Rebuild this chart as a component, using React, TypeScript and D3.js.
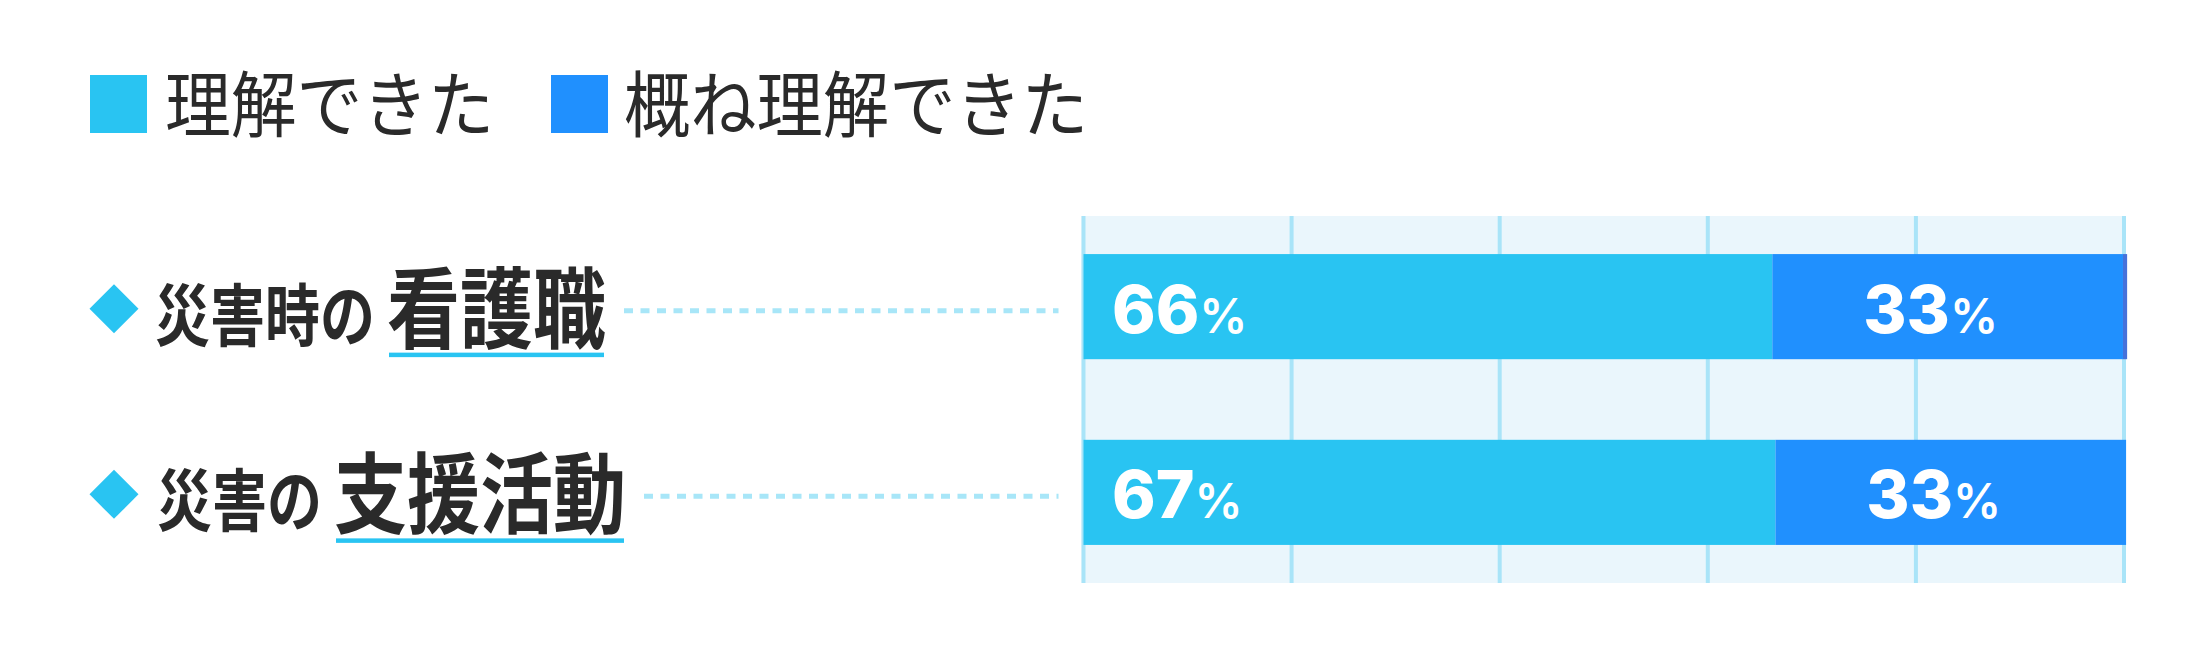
import React, { useEffect } from "react";
import * as d3 from "d3";

// ---- data ----
const categories = ["災害時の看護職", "災害の支援活動"];
const labelPrefix = ["災害時の", "災害の"];
const labelEmphasis = ["看護職", "支援活動"];
const seriesNames = ["理解できた", "概ね理解できた"];
const understood = [66.2, 66.5];
const mostlyUnderstood = [33.7, 33.7];
const otherAnswers = [0.4, 0];
const understoodLabels = ["66", "67"];
const mostlyLabels = ["33", "33"];
const xTicks = [0, 20, 40, 60, 80, 100];

const W = 2206;
const H = 665;
const C_LIGHT = "#29c4f2";
const C_DARK = "#2090fe";
const C_OTHER = "#4672da";
const C_TEXT = "#2a2a2a";
const CJK = "'Noto Sans CJK JP', 'Noto Sans CJK SC', sans-serif";
const NUM = "Inter, 'Open Sans', sans-serif";

export default function App() {
  useEffect(() => {
    document.body.style.margin = "0";
  }, []);

  const x = d3.scaleLinear().domain([0, 100]).range([1083.5, 2124]);
  const y = d3
    .scaleBand<string>()
    .domain(categories)
    .range([216, 583])
    .paddingInner(0.434)
    .paddingOuter(0.205);

  const table = categories.map((c, i) => ({
    category: c,
    understood: understood[i],
    mostly: mostlyUnderstood[i],
    other: otherAnswers[i],
  }));
  const keys = ["understood", "mostly", "other"];
  const colors: Record<string, string> = {
    understood: C_LIGHT,
    mostly: C_DARK,
    other: C_OTHER,
  };
  const stacked = d3.stack<any>().keys(keys)(table);

  const bw = y.bandwidth();
  const [r0, r1] = x.range();

  const legendItems = [
    { name: seriesNames[0], color: C_LIGHT, sx: 90, tx: 165, len: 329 },
    { name: seriesNames[1], color: C_DARK, sx: 551, tx: 624, len: 464 },
  ];

  const PRE_FS = 68;
  const EMP_FS = 88;

  return (
    <svg
      width={W}
      height={H}
      viewBox={`0 0 ${W} ${H}`}
      style={{ display: "block", background: "#ffffff" }}
    >
      {/* legend */}
      {legendItems.map((d) => (
        <g key={d.name}>
          <rect x={d.sx} y={75} width={57} height={58} fill={d.color} />
          <text
            x={d.tx}
            y={131}
            fontFamily={CJK}
            fontSize={72}
            fontWeight={400}
            fill={C_TEXT}
            textLength={d.len}
            lengthAdjust="spacingAndGlyphs"
          >
            {d.name}
          </text>
        </g>
      ))}

      {/* plot background */}
      <rect x={r0 - 2} y={216} width={r1 - r0 + 4} height={367} fill="#eaf6fc" />
      {xTicks.map((t) => (
        <line
          key={t}
          x1={x(t)}
          x2={x(t)}
          y1={216}
          y2={583}
          stroke="#a9e4f8"
          strokeWidth={4}
        />
      ))}

      {/* bars */}
      {stacked.map((s) => (
        <g key={s.key} fill={colors[s.key]}>
          {s.map((d, i) =>
            d[1] - d[0] > 0 ? (
              <rect
                key={i}
                x={x(d[0])}
                y={y(categories[i])!}
                width={x(d[1]) - x(d[0])}
                height={bw}
              />
            ) : null
          )}
        </g>
      ))}

      {/* value labels */}
      {categories.map((c, i) => {
        const cy = y(c)! + bw / 2;
        const s2 = stacked[1][i];
        const mid2 = (x(s2[0]) + x(s2[1])) / 2;
        return (
          <g key={c} fill="#ffffff" fontFamily={NUM}>
            <text x={x(0) + 28.5} y={cy + 26}>
              <tspan fontSize={66} fontWeight={800}>
                {understoodLabels[i]}
              </tspan>
              <tspan fontSize={48} fontWeight={600}>
                %
              </tspan>
            </text>
            <text x={mid2 - 17} y={cy + 26} textAnchor="middle">
              <tspan fontSize={66} fontWeight={800}>
                {mostlyLabels[i]}
              </tspan>
              <tspan fontSize={48} fontWeight={600}>
                %
              </tspan>
            </text>
          </g>
        );
      })}

      {/* row labels */}
      {categories.map((c, i) => {
        const cy = y(c)! + bw / 2;
        const pre = labelPrefix[i];
        const emp = labelEmphasis[i];
        const preX = i === 0 ? 155 : 157;
        const preLen = pre.length * 55;
        const empX = preX + preLen + 12;
        const empLen = emp.length * 73;
        const empEnd = empX + empLen;
        const preSx = preLen / (pre.length * PRE_FS);
        const empSx = empLen / (emp.length * EMP_FS);
        const dcx = 114;
        const dcy = cy + 2;
        const dr = 24.5;
        return (
          <g key={c}>
            <path
              d={`M${dcx - dr},${dcy} L${dcx},${dcy - dr} L${dcx + dr},${dcy} L${dcx},${dcy + dr} Z`}
              fill={C_LIGHT}
            />
            <text
              transform={`translate(${preX},${cy + 34}) scale(${preSx},1)`}
              fontFamily={CJK}
              fontWeight={700}
              fontSize={PRE_FS}
              fill={C_TEXT}
            >
              {pre}
            </text>
            <text
              transform={`translate(${empX},${cy + 34}) scale(${empSx},1)`}
              fontFamily={CJK}
              fontWeight={700}
              fontSize={EMP_FS}
              fill={C_TEXT}
            >
              {emp}
            </text>
            <rect
              x={empX + 2}
              y={cy + 46}
              width={empLen - 4}
              height={4.5}
              fill={C_LIGHT}
            />
            <line
              x1={empEnd + 18}
              x2={x(0) - 25}
              y1={cy + 4}
              y2={cy + 4}
              stroke="#a8e6f8"
              strokeWidth={5}
              strokeDasharray="9 7.5"
            />
          </g>
        );
      })}
    </svg>
  );
}
